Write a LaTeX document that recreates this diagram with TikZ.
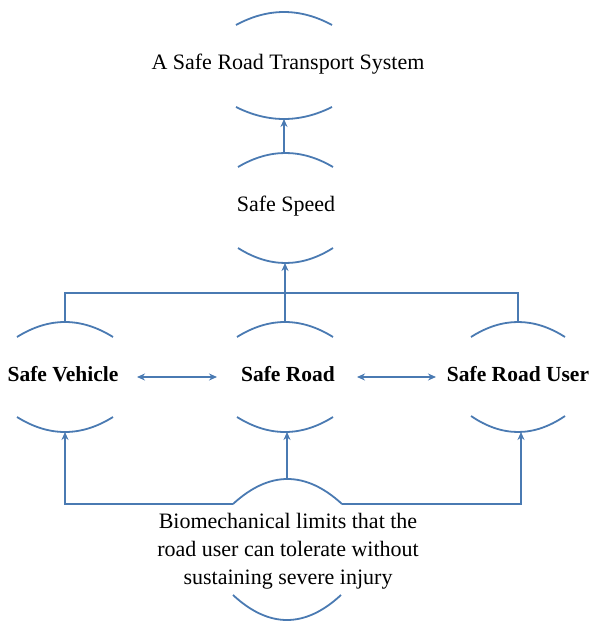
\documentclass[tikz,border=0pt]{standalone}
\usepackage{fontspec}
\setmainfont{Liberation Serif}
\usetikzlibrary{arrows.meta}
\definecolor{lineblue}{RGB}{74,122,178}
\tikzset{
  conn/.style={draw=lineblue, line width=1.8pt},
  arr/.style={conn, -{Stealth[length=8pt,width=7pt]}},
  darr/.style={conn, {Stealth[length=8pt,width=7pt]}-{Stealth[length=8pt,width=7pt]}},
  arcline/.style={draw=lineblue, line width=1.8pt},
  lbl/.style={inner sep=0pt, font=\fontsize{22}{28}\selectfont, text=black, align=center},
  blbl/.style={lbl, font=\fontsize{21.5}{28}\selectfont\bfseries}
}
\newcommand\myarc[4]{%
  \pgfmathsetmacro\cA{#1+(#2-#1)/3}%
  \pgfmathsetmacro\cB{#2-(#2-#1)/3}%
  \pgfmathsetmacro\cY{#3+4/3*(#4-#3)}%
  \draw[arcline] (#1,#3) .. controls (\cA,\cY) and (\cB,\cY) .. (#2,#3);}
\begin{document}
\begin{tikzpicture}[x=1pt,y=-1pt]
\useasboundingbox (0,0) rectangle (592,621);
% text nodes
\node[lbl] (sys) at (288,64) {A Safe Road Transport System};
\node[lbl] (speed) at (286,206) {Safe Speed};
\node[blbl] (veh) at (63,374) {Safe Vehicle};
\node[blbl] (road) at (288,374) {Safe Road};
\node[blbl] (user) at (518,374) {Safe Road User};
\node[lbl] (bio) at (288,551) {Biomechanical limits that the\\road user can tolerate without\\sustaining severe injury};
% arc apex coordinates
\coordinate (sysB) at (284,119);
\coordinate (speedT) at (284,153);
\coordinate (speedB) at (285,263);
\coordinate (vehT) at (65,322);
\coordinate (vehB) at (65,432);
\coordinate (roadT) at (285,322);
\coordinate (roadB) at (287,432);
\coordinate (userT) at (518,322);
\coordinate (userB) at (521,432);
\coordinate (bioT) at (287,479);
\coordinate (bioL) at (233,504);
\coordinate (bioR) at (342,504);
\coordinate (busL) at (65,293);
\coordinate (busR) at (518,293);
\coordinate (vehBL) at (65,504);
\coordinate (userBR) at (521,504);
% arcs
\myarc{236}{332}{25}{12}
\myarc{236}{332}{107}{119}
\myarc{238}{333}{167}{153}
\myarc{238}{333}{248}{263}
\myarc{17}{113}{337}{322}
\myarc{17}{113}{417}{432}
\myarc{237}{333}{337}{322}
\myarc{237}{333}{417}{432}
\myarc{471}{565}{337}{322}
\myarc{471}{565}{416}{432}
\myarc{233}{342}{504}{479}
\myarc{233}{341}{595}{620}
% connectors
\draw[arr] (speedT) -- (sysB);
\draw[arr] (roadT) -- (speedB);
\draw[conn] (vehT) -- (busL) -- (busR) -- (userT);
\draw[darr] (137,377) -- (217,377);
\draw[darr] (357,377) -- (436,377);
\draw[arr] (bioT) -- (roadB);
\draw[arr] (bioL) -- (vehBL) -- (vehB);
\draw[arr] (bioR) -- (userBR) -- (userB);
\end{tikzpicture}
\end{document}
